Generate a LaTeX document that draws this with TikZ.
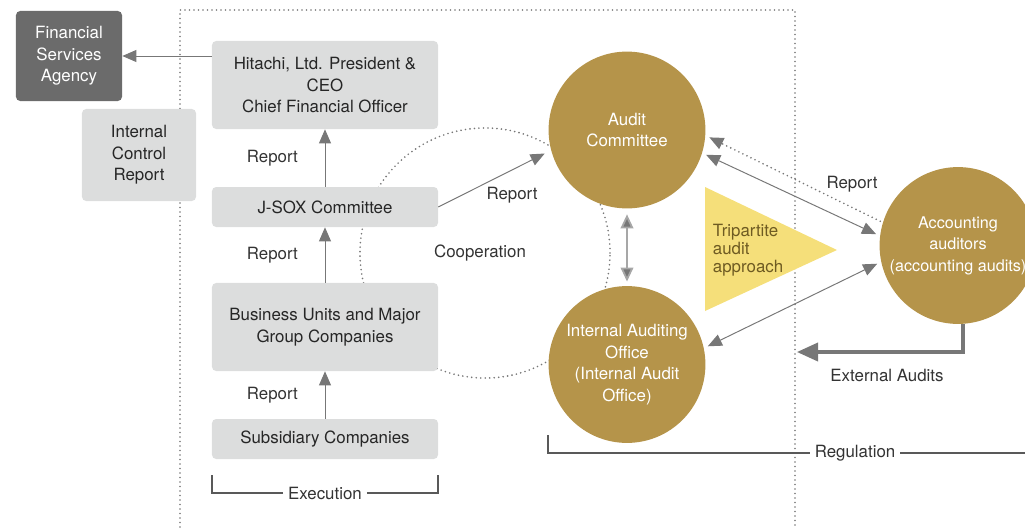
\documentclass[tikz,border=0pt]{standalone}
\usepackage{fontspec}
\setmainfont{TeX Gyre Heros}
\usetikzlibrary{arrows.meta, positioning, calc}
\definecolor{HitGold}{HTML}{B5944A}
\definecolor{HitGrey}{HTML}{DCDDDD}
\definecolor{HitDark}{HTML}{6B6B6B}
\definecolor{HitLine}{HTML}{777777}
\definecolor{HitYellow}{HTML}{F5DF7A}
\definecolor{HitOlive}{HTML}{6E5B22}

\tikzset{
  box/.style={fill=HitGrey, rounded corners=3pt, align=center, inner sep=0pt,
    minimum width=5.65cm, font=\fontsize{12}{15.3}\selectfont, text=black!85},
  circ/.style={circle, fill=HitGold, text=white, minimum size=3.92cm, inner sep=0pt,
    align=center, font=\fontsize{12}{15.3}\selectfont},
  link/.style={draw=HitLine, line width=0.7pt},
  dotline/.style={draw=HitLine, line width=1.3pt, line cap=round, dash pattern=on 0pt off 3.2pt},
  lbl/.style={font=\fontsize{12}{14}\selectfont, text=black!80},
  brack/.style={draw=black!65, line width=0.8pt}
}

\begin{document}
\begin{tikzpicture}[x=0.025cm, y=-0.025cm, >={Triangle[length=10pt, width=8.5pt]}]
  \useasboundingbox (0,0) rectangle (1025,527);
  % frame and cooperation ring
  \draw[dotline] (180,527) -- (180,10) -- (795,10) -- (795,527);
  \draw[dotline] (485,253) circle (3.125cm);

  % left column
  \node[box, fill=HitDark, text=white, minimum width=2.65cm, minimum height=2.25cm] (fsa) at (69,56) {Financial\\Services\\Agency};
  \node[box, minimum width=2.85cm, minimum height=2.3cm] (icr) at (139,155) {Internal\\Control\\Report};
  \node[box, minimum height=2.2cm] (ceo) at (325,85) {Hitachi, Ltd. President \&\\CEO\\Chief Financial Officer};
  \node[box, minimum height=1cm] (jsox) at (325,207) {J-SOX Committee};
  \node[box, minimum height=2.2cm] (bu) at (325,327) {Business Units and Major\\Group Companies};
  \node[box, minimum height=1cm] (sub) at (325,439) {Subsidiary Companies};

  \draw[link, ->] (ceo.west |- fsa.east) -- (fsa.east);
  \draw[link, ->] (jsox.north) -- (ceo.south) node[lbl, midway, left=0.55cm] {Report};
  \draw[link, ->] (bu.north) -- (jsox.south) node[lbl, midway, left=0.55cm] {Report};
  \draw[link, ->] (sub.north) -- (bu.south) node[lbl, midway, left=0.55cm] {Report};

  % audit bodies
  \node[circ] (ac) at (627,130) {Audit\\Committee};
  \node[circ] (iao) at (627,364.5) {Internal Auditing\\Office\\(Internal Audit\\Office)};
  \node[circ, font=\fontsize{11.5}{15.3}\selectfont] (acc) at (958,245.5) {Accounting\\auditors\\(accounting audits)};

  \fill[HitYellow] (705,187) -- (705,311) -- (837,250) -- cycle;
  \node[anchor=west, align=left, text=HitOlive, font=\fontsize{12}{12.8}\selectfont] (tri) at (708,250) {Tripartite\\audit\\approach};

  \draw[link, ->, shorten >=5pt] (jsox.east) -- (ac.195);
  \node[lbl] (rep1) at (512,195) {Report};
  \node[lbl] (coop) at (480,253) {Cooperation};

  \draw[draw=HitLine!65, line width=1.3pt, {Triangle[length=10pt, width=9pt, fill=HitLine]}-{Triangle[length=10pt, width=9pt, fill=HitLine]},
    shorten <=4pt, shorten >=3pt] (ac.south) -- (iao.north);
  \draw[link, <->, shorten <=3pt, shorten >=3pt] (ac.-17) -- (acc.173);
  \draw[dotline, ->, shorten <=2pt, shorten >=3pt] (acc.163) -- (ac.-4);
  \draw[link, <->, shorten <=3pt, shorten >=3pt] (iao.12) -- (acc.192);
  \node[lbl] (rep2) at (852,184) {Report};

  % external audits
  \coordinate (extend) at (797,352);
  \draw[draw=HitLine, line width=2.2pt, -{Triangle[length=15pt, width=13pt]}] ($(acc.south)+(5,0)$) |- (extend);
  \node[lbl] (ext) at (887,375) {External Audits};

  % brackets
  \node[lbl] (reg) at (855,453) {Regulation};
  \draw[brack] (548,435) -- (548,453) -- (reg.west);
  \draw[brack] (reg.east) -- (1025,453);
  \node[lbl] (exe) at (325,493) {Execution};
  \draw[brack] (exe.west) -- (212,493) -- (212,475);
  \draw[brack] (exe.east) -- (438,493) -- (438,475);
\end{tikzpicture}
\end{document}
